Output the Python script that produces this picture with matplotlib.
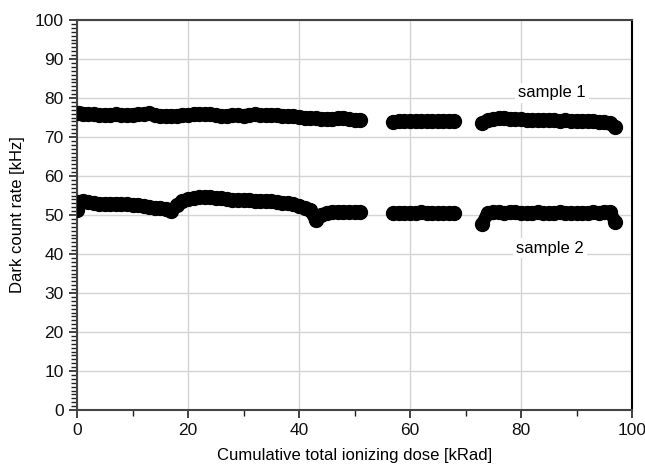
import matplotlib
matplotlib.use("Agg")
import matplotlib.pyplot as plt
from matplotlib.ticker import MultipleLocator

plt.rcParams["font.family"] = ["Liberation Sans", "DejaVu Sans"]

# Dose points (kRad), three measurement runs with pauses in between
DOSE = [0, 0.4, 1, 2, 3, 4, 5, 6, 7, 8, 9, 10, 11, 12, 13, 14, 15, 16, 17, 18, 19,
        20, 21, 22, 23, 24, 25, 26, 27, 28, 29, 30, 31, 32, 33, 34, 35, 36, 37, 38,
        39, 40, 41, 42, 43, 44, 45, 46, 47, 48, 49, 50, 51,
        57, 58, 59, 60, 61, 62, 63, 64, 65, 66, 67, 68,
        73, 74, 75, 76, 77, 78, 79, 80, 81, 82, 83, 84, 85, 86, 87, 88, 89, 90,
        91, 92, 93, 94, 95, 96, 97]

# Dark count rate, kHz
SAMPLE_1 = [76.2, 76.1, 76.0, 75.8, 75.8, 75.7, 75.6, 75.7, 75.8, 75.6, 75.6, 75.7,
            75.8, 75.8, 76.1, 75.6, 75.5, 75.4, 75.4, 75.5, 75.6, 75.7, 75.8, 75.9,
            75.8, 75.8, 75.6, 75.3, 75.5, 75.6, 75.6, 75.5, 75.7, 75.8, 75.6, 75.6,
            75.7, 75.6, 75.5, 75.4, 75.4, 75.2, 75.0, 74.9, 74.8, 74.7, 74.7, 74.6,
            74.8, 75.0, 74.6, 74.4, 74.4,
            73.9, 74.0, 74.0, 74.1, 74.0, 74.0, 74.1, 74.0, 74.0, 74.1, 74.2, 74.1,
            73.6, 74.3, 74.5, 74.8, 74.9, 74.7, 74.6, 74.5, 74.4, 74.3, 74.4, 74.3,
            74.4, 74.3, 74.2, 74.3, 74.2, 74.1, 74.2, 74.1, 74.0, 73.9, 73.8, 73.7,
            72.6]

SAMPLE_2 = [51.2, 53.3, 53.5, 53.3, 53.0, 52.9, 52.8, 52.8, 52.9, 52.8, 52.7, 52.6,
            52.5, 52.3, 52.1, 51.9, 51.7, 51.6, 50.9, 52.5, 53.6, 54.0, 54.3, 54.5,
            54.6, 54.5, 54.4, 54.3, 54.0, 53.9, 53.9, 53.8, 53.9, 53.7, 53.6, 53.6,
            53.5, 53.4, 53.2, 53.0, 52.7, 52.3, 51.8, 51.3, 48.7, 50.0, 50.6, 50.7,
            50.8, 50.8, 50.7, 50.8, 50.8,
            50.5, 50.6, 50.5, 50.6, 50.5, 50.7, 50.6, 50.5, 50.4, 50.4, 50.5, 50.4,
            47.6, 50.6, 50.7, 50.8, 50.6, 50.7, 50.7, 50.6, 50.5, 50.6, 50.7, 50.5,
            50.4, 50.6, 50.7, 50.6, 50.5, 50.4, 50.5, 50.6, 50.7, 50.6, 50.7, 50.8,
            48.3]

# index ranges of the three runs inside DOSE
RUNS = [(0, 53), (53, 65), (65, 90)]

fig = plt.figure(figsize=(6.45, 4.68), dpi=100)
ax = fig.add_axes([77 / 645, 58 / 468, 555 / 645, 390 / 468])

for series in (SAMPLE_1, SAMPLE_2):
    for a, b in RUNS:
        ax.plot(DOSE[a:b], series[a:b], "-", color="black", linewidth=9.2,
                solid_capstyle="round", solid_joinstyle="round", zorder=3)
    ax.plot(DOSE, series, "o", color="black", markersize=10, zorder=3)

box = dict(facecolor="white", edgecolor="none", pad=2)
ax.text(85.6, 81.3, "sample 1", fontsize=12, ha="center", va="center",
        bbox=box, zorder=4)
ax.text(85.2, 41.5, "sample 2", fontsize=12, ha="center", va="center",
        bbox=box, zorder=4)

ax.set_xlim(0, 100)
ax.set_ylim(0, 100)
ax.xaxis.set_major_locator(MultipleLocator(20))
ax.xaxis.set_minor_locator(MultipleLocator(10))
ax.yaxis.set_major_locator(MultipleLocator(10))
ax.yaxis.set_minor_locator(MultipleLocator(1))

ax.grid(True, which="major", color="#d4d4d4", linewidth=1.0, zorder=0)
ax.set_axisbelow(True)

ax.tick_params(which="major", direction="out", length=6, width=1.2,
               labelsize=12.5, color="#222222", labelcolor="#111111")
ax.tick_params(which="minor", direction="out", length=4, width=1.0, color="#222222")

for side in ["left", "bottom", "top"]:
    ax.spines[side].set_color("#444444")
    ax.spines[side].set_linewidth(1.5)
ax.spines["right"].set_color("black")
ax.spines["right"].set_linewidth(1.5)

ax.set_xlabel("Cumulative total ionizing dose [kRad]", fontsize=12, labelpad=7)
ax.set_ylabel("Dark count rate [kHz]", fontsize=12, labelpad=7)

fig.savefig("out.png", dpi=100)
